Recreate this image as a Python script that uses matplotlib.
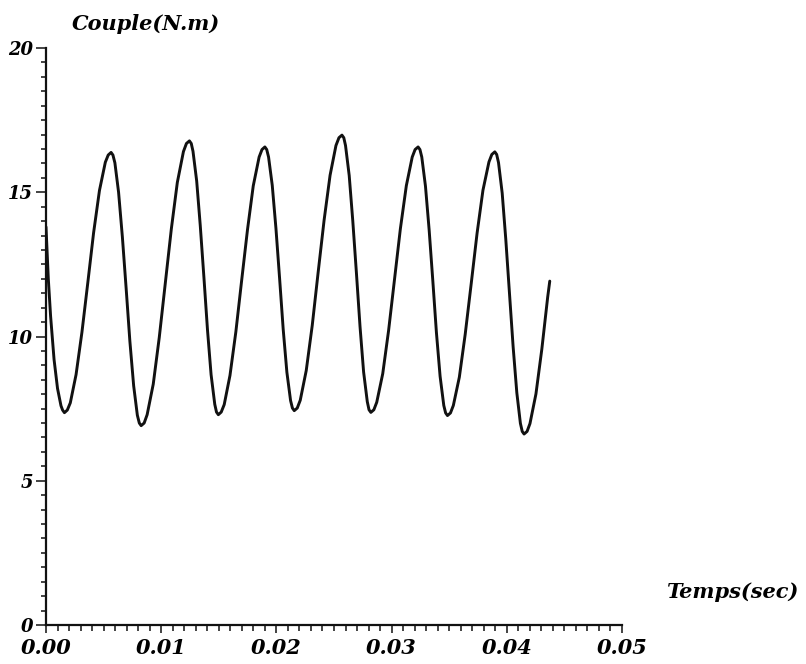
import matplotlib
matplotlib.use("Agg")
import matplotlib.pyplot as plt
from matplotlib.ticker import MultipleLocator, FormatStrFormatter

# torque curve (time in s, torque in N.m)
temps = [
    0.0000, 0.0002, 0.0004, 0.0007, 0.0010, 0.0013, 0.00144, 0.0016, 0.00185,
    0.00211, 0.00261, 0.00312, 0.00363, 0.00413, 0.00464, 0.00515, 0.00540, 0.00565, 0.00581,
    0.00598, 0.00630, 0.00663, 0.00696, 0.00728, 0.00761, 0.00793, 0.00810, 0.00826, 0.00852,
    0.00878, 0.00931, 0.00983, 0.01036, 0.01088, 0.01140, 0.01193, 0.01219, 0.01245, 0.01261,
    0.01276, 0.01308, 0.01339, 0.01371, 0.01402, 0.01433, 0.01465, 0.01480, 0.01496, 0.01521,
    0.01547, 0.01597, 0.01648, 0.01698, 0.01749, 0.01799, 0.01850, 0.01875, 0.01900, 0.01916,
    0.01932, 0.01964, 0.01996, 0.02028, 0.02059, 0.02091, 0.02123, 0.02139, 0.02155, 0.02181,
    0.02207, 0.02259, 0.02311, 0.02362, 0.02414, 0.02466, 0.02517, 0.02543, 0.02569, 0.02585,
    0.02600, 0.02632, 0.02663, 0.02695, 0.02726, 0.02757, 0.02789, 0.02804, 0.02820, 0.02846,
    0.02871, 0.02923, 0.02974, 0.03025, 0.03076, 0.03128, 0.03179, 0.03204, 0.03230, 0.03246,
    0.03262, 0.03294, 0.03326, 0.03358, 0.03389, 0.03421, 0.03453, 0.03469, 0.03485, 0.03511,
    0.03536, 0.03588, 0.03639, 0.03691, 0.03742, 0.03793, 0.03845, 0.03870, 0.03896, 0.03912,
    0.03928, 0.03960, 0.03991, 0.04023, 0.04055, 0.04087, 0.04118, 0.04134, 0.04150, 0.04176,
    0.04201, 0.04253, 0.04304, 0.04355, 0.04373,
]
couple = [
    13.8, 12.0, 10.7, 9.2, 8.2, 7.6, 7.45, 7.36, 7.45,
    7.70, 8.68, 10.15, 11.87, 13.59, 15.06, 16.04, 16.29, 16.38, 16.29,
    16.02, 15.00, 13.45, 11.65, 9.84, 8.29, 7.27, 7.00, 6.91, 7.00,
    7.29, 8.35, 9.96, 11.85, 13.73, 15.34, 16.41, 16.69, 16.78, 16.69,
    16.42, 15.39, 13.85, 12.04, 10.22, 8.68, 7.65, 7.38, 7.29, 7.38,
    7.64, 8.65, 10.16, 11.93, 13.70, 15.22, 16.22, 16.48, 16.57, 16.48,
    16.22, 15.24, 13.75, 12.00, 10.25, 8.76, 7.78, 7.52, 7.43, 7.52,
    7.79, 8.82, 10.38, 12.21, 14.03, 15.59, 16.62, 16.89, 16.98, 16.89,
    16.62, 15.58, 14.01, 12.18, 10.34, 8.77, 7.74, 7.46, 7.37, 7.46,
    7.72, 8.71, 10.21, 11.97, 13.73, 15.23, 16.22, 16.48, 16.57, 16.48,
    16.22, 15.21, 13.69, 11.92, 10.14, 8.62, 7.61, 7.35, 7.26, 7.35,
    7.61, 8.59, 10.08, 11.83, 13.58, 15.07, 16.05, 16.31, 16.40, 16.31,
    16.03, 14.97, 13.38, 11.51, 9.64, 8.05, 6.99, 6.71, 6.62, 6.71,
    6.98, 8.01, 9.56, 11.37, 11.92,
]

xticks = [0.00, 0.01, 0.02, 0.03, 0.04, 0.05]
yticks = [0, 5, 10, 15, 20]

font = {"family": "DejaVu Serif", "weight": "bold", "style": "italic"}

fig = plt.figure(figsize=(8.06, 6.64), dpi=100)
ax = fig.add_axes([46 / 806, 1 - 625 / 664, 576 / 806, 577 / 664])

ax.plot(temps, couple, color="#111111", linewidth=2.1,
        solid_joinstyle="round", solid_capstyle="round")

ax.set_xlim(0, 0.05)
ax.set_ylim(0, 20)
ax.set_xticks(xticks)
ax.set_yticks(yticks)
ax.xaxis.set_major_formatter(FormatStrFormatter("%.2f"))
ax.xaxis.set_minor_locator(MultipleLocator(0.001))
ax.yaxis.set_minor_locator(MultipleLocator(0.5))

for side in ["top", "right"]:
    ax.spines[side].set_visible(False)
for side in ["left", "bottom"]:
    ax.spines[side].set_linewidth(1.6)
    ax.spines[side].set_color("#111111")

ax.tick_params(axis="both", which="both", direction="out", color="#111111", width=1.1)
ax.tick_params(axis="y", which="major", length=7.5, pad=2)
ax.tick_params(axis="y", which="minor", length=3.6)
ax.tick_params(axis="x", which="major", length=6, pad=3)
ax.tick_params(axis="x", which="minor", length=4)

for lab in ax.get_yticklabels():
    lab.set(fontsize=13, **font)
for lab in ax.get_xticklabels():
    lab.set(fontsize=15, **font)

fig.text(72 / 806, 1 - 30 / 664, "Couple(N.m)", fontsize=15, ha="left", va="baseline", **font)
fig.text(666 / 806, 1 - 598 / 664, "Temps(sec)", fontsize=15, ha="left", va="baseline", **font)

fig.savefig("out.png", dpi=100, facecolor="white")
plt.close(fig)
